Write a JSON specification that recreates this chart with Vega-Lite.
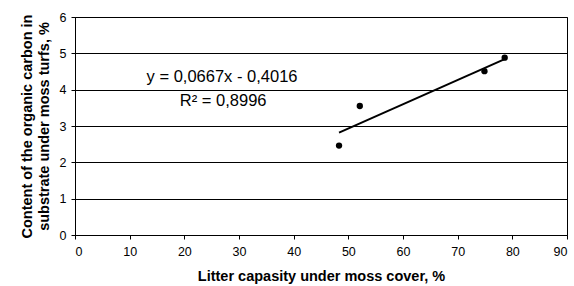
{
  "$schema": "https://vega.github.io/schema/vega-lite/v6.json",
  "width": 492,
  "height": 218,
  "autosize": {"type": "none"},
  "padding": {"left": 75, "top": 17, "right": 7, "bottom": 51},
  "background": "white",
  "config": {
    "font": "Liberation Sans",
    "view": {"stroke": "#000000", "strokeWidth": 1},
    "axis": {"labelFont": "Liberation Sans", "titleFont": "Liberation Sans", "labelColor": "#000", "titleColor": "#000", "domainColor": "#000", "tickColor": "#000", "labelFontSize": 12.5, "titleFontSize": 14.5, "titleFontWeight": "bold"}
  },
  "datasets": {
    "points": [
      {"x": 48.3, "y": 2.46},
      {"x": 52.1, "y": 3.55},
      {"x": 74.9, "y": 4.51},
      {"x": 78.6, "y": 4.88}
    ],
    "trend": [
      {"x": 48.3, "y": 2.82},
      {"x": 78.6, "y": 4.84}
    ],
    "labels": [
      {"x": 26.9, "y": 4.36, "t": "y = 0,0667x - 0,4016"},
      {"x": 27.1, "y": 3.7, "t": "R² = 0,8996"}
    ]
  },
  "encoding": {
    "x": {"field": "x", "type": "quantitative", "scale": {"domain": [0, 90], "nice": false}, "axis": {"values": [0,10,20,30,40,50,60,70,80,90], "labelOverlap": false, "grid": false, "tickSize": 4, "labelPadding": 6, "title": "Litter capasity under moss cover, %", "titlePadding": 12}},
    "y": {"field": "y", "type": "quantitative", "scale": {"domain": [0, 6], "nice": false}, "axis": {"values": [0,1,2,3,4,5,6], "labelOverlap": false, "grid": true, "gridColor": "#000", "gridOpacity": 1, "tickSize": 4, "labelPadding": 5, "title": ["Content of  the organic carbon in", "substrate under moss turfs, %"], "titlePadding": 8}}
  },
  "layer": [
    {
      "data": {"name": "points"},
      "mark": {"type": "point", "filled": true, "color": "#000", "size": 40, "opacity": 1}
    },
    {
      "data": {"name": "trend"},
      "mark": {"type": "line", "color": "#000", "strokeWidth": 2}
    },
    {
      "data": {"name": "labels"},
      "mark": {"type": "text", "fontSize": 16.5, "color": "#000", "align": "center", "baseline": "middle"},
      "encoding": {
        "text": {"field": "t"}
      }
    }
  ]
}
